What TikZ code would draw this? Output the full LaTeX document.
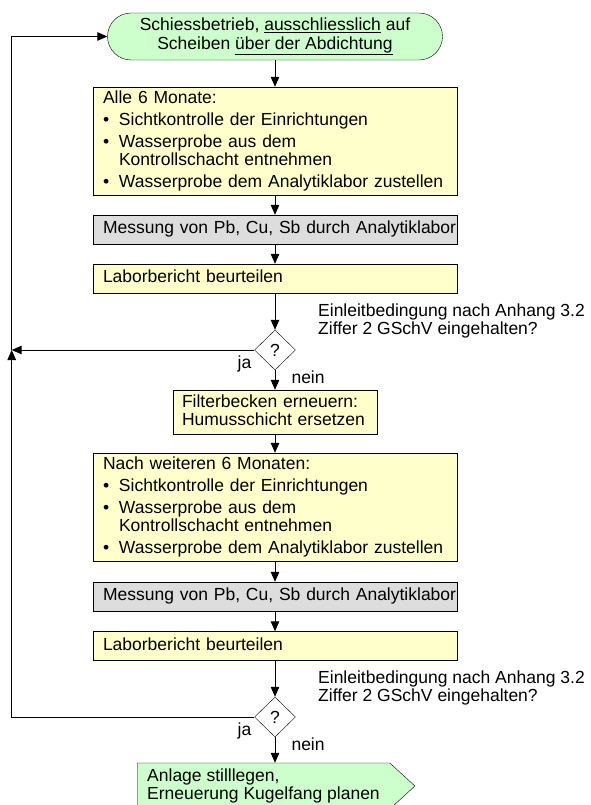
\documentclass[tikz,border=0pt]{standalone}
\usepackage{fontspec}
\setmainfont{Liberation Sans}
\usetikzlibrary{arrows.meta,shapes.geometric,shapes.symbols}
\definecolor{gruen}{HTML}{CCFFCC}
\definecolor{gelb}{HTML}{FFFFCC}
\definecolor{grau}{HTML}{DDDDDD}
\newcommand{\pkt}{\makebox[16pt][l]{\textbullet}}

\begin{document}
\begin{tikzpicture}[x=1pt,y=-1pt,font=\fontsize{17.5}{18.3}\selectfont]
      \useasboundingbox(0,0) rectangle (590,805);
      \tikzset{T/.style = {draw, fill=gruen, rounded corners=23.5pt, minimum width=335pt, minimum height=47pt, inner sep=0pt, align=center}}
      \tikzset{B/.style = {draw, fill=gelb, inner xsep=10pt, inner ysep=0pt, text width=344pt, align=left, minimum height=#1}, B/.default=29pt}
      \tikzset{M/.style = {B, fill=grau, text depth=3.7pt}}
      \tikzset{D/.style = {draw, fill=white, shape=diamond, minimum width=41pt, minimum height=40pt, inner sep=0pt}}
      \tikzset{S/.style = {draw, fill=gruen, shape=signal, signal to=east, signal pointer angle=85, minimum height=46pt, inner xsep=10pt, inner ysep=0pt, align=left}}
      \tikzset{E/.style = {draw, line width=1pt, -{Triangle[length=10pt,width=8.5pt]}}}
      \node[T](s) at (275,36.5) {Schiessbetrieb, \underline{ausschliesslich} auf\\Scheiben \underline{über der Abdichtung}};
      \node[B=108pt](a1) at (275,141) {Alle 6 Monate:\\[3.5pt]
        \pkt Sichtkontrolle der Einrichtungen\\[3.5pt]
        \pkt Wasserprobe aus dem\\\hspace*{16pt}Kontrollschacht entnehmen\\[3.5pt]
        \pkt Wasserprobe dem Analytiklabor zustellen};
      \node[M](m1) at (275,229.5) {\mbox{Messung von Pb, Cu, Sb durch Analytiklabor}};
      \node[B,text depth=3.7pt](l1) at (275,278.5) {Laborbericht beurteilen};
      \node[D](d1) at (275,350) {?};
      \node[anchor=north west,inner sep=0pt,align=left](q1) at (318,303.8) {Einleitbedingung nach Anhang 3.2\\Ziffer 2 GSchV eingehalten?};
      \node[anchor=base](ja1) at (244.5,368) {ja};
      \node[anchor=base west](nein1) at (288,383) {nein};
      \node[B=44pt,inner xsep=9pt,text width=186pt,text depth=22pt](f) at (275,412) {Filterbecken erneuern:\\Humusschicht ersetzen};
      \node[B=108pt](a2) at (275,507) {Nach weiteren 6 Monaten:\\[3.5pt]
        \pkt Sichtkontrolle der Einrichtungen\\[3.5pt]
        \pkt Wasserprobe aus dem\\\hspace*{16pt}Kontrollschacht entnehmen\\[3.5pt]
        \pkt Wasserprobe dem Analytiklabor zustellen};
      \node[M](m2) at (275,596.5) {\mbox{Messung von Pb, Cu, Sb durch Analytiklabor}};
      \node[B,text depth=3.7pt](l2) at (275,646) {Laborbericht beurteilen};
      \node[D](d2) at (275,717) {?};
      \node[anchor=north west,inner sep=0pt,align=left](q2) at (318,670.8) {Einleitbedingung nach Anhang 3.2\\Ziffer 2 GSchV eingehalten?};
      \node[anchor=base](ja2) at (244.5,735) {ja};
      \node[anchor=base west](nein2) at (288,750) {nein};
      \node[S](e) at (263.5,786) {Anlage stilllegen,\\Erneuerung Kugelfang planen};
      \coordinate (j) at (11.7,350);
      \draw[E](s) to (a1);
      \draw[E](a1) to (m1);
      \draw[E](m1) to (l1);
      \draw[E](l1) to (d1);
      \draw[E](d1) to (f);
      \draw[E](f) to (a2);
      \draw[E](a2) to (m2);
      \draw[E](m2) to (l2);
      \draw[E](l2) to (d2);
      \draw[E](d2) to (e.north -| d2);
      \draw[E](d1.west) to (j);
      \draw[E](d2.west) -| (j);
      \draw[E](j) |- (s.west);
    \end{tikzpicture}
\end{document}
